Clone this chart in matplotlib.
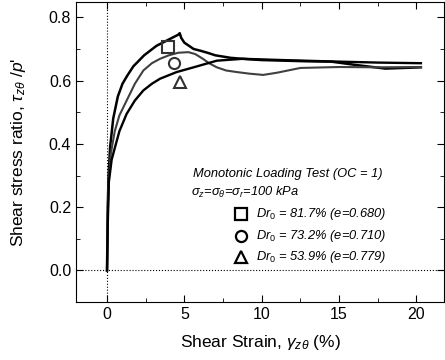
import numpy as np
import matplotlib.pyplot as plt
from matplotlib.ticker import MultipleLocator

plt.rcParams['font.family'] = ['Liberation Sans', 'DejaVu Sans']
plt.rcParams['mathtext.fontset'] = 'custom'
plt.rcParams['mathtext.rm'] = 'Liberation Sans'
plt.rcParams['mathtext.it'] = 'Liberation Sans:italic'

# Dr0 = 81.7 %
x1 = [0, 0.05, 0.1, 0.2, 0.4, 0.7, 1.0, 1.3, 1.7, 2.0, 2.4, 2.8, 3.2, 3.6, 4.0, 4.4, 4.6, 4.7,
      4.8, 5.0, 5.3, 5.6, 6.0, 6.5, 7.0, 8.0, 9.0, 10.0, 11.5, 13.0, 14.5, 16.0, 18.0, 20.3]
y1 = [0, 0.2, 0.3, 0.39, 0.48, 0.55, 0.59, 0.615, 0.645, 0.66, 0.68, 0.695, 0.71, 0.72, 0.73,
      0.74, 0.745, 0.75, 0.735, 0.72, 0.71, 0.70, 0.695, 0.688, 0.68, 0.672, 0.668, 0.665,
      0.663, 0.661, 0.66, 0.65, 0.638, 0.642]

# Dr0 = 73.2 %
x2 = [0, 0.05, 0.1, 0.25, 0.5, 0.8, 1.27, 1.8, 2.35, 2.9, 3.43, 4.0, 4.6, 5.26, 5.7, 6.2, 6.6,
      7.1, 7.7, 8.4, 9.2, 10.1, 11.0, 12.5, 15.0, 17.5, 20.3]
y2 = [0, 0.2, 0.28, 0.37, 0.44, 0.49, 0.537, 0.59, 0.632, 0.655, 0.669, 0.68, 0.688, 0.69,
      0.684, 0.669, 0.655, 0.642, 0.632, 0.627, 0.622, 0.618, 0.625, 0.64, 0.643, 0.642, 0.643]

# Dr0 = 53.9 %
x3 = [0, 0.05, 0.12, 0.3, 0.52, 0.8, 1.27, 1.8, 2.35, 2.9, 3.43, 4.5, 5.6, 7.1, 8.8, 10.0,
      12.0, 15.0, 17.5, 20.3]
y3 = [0, 0.15, 0.28, 0.35, 0.39, 0.44, 0.495, 0.537, 0.569, 0.59, 0.606, 0.627, 0.642, 0.663,
      0.669, 0.667, 0.664, 0.66, 0.657, 0.655]

# marker positions next to the peaks
mx = [3.97, 4.3, 4.72]
my = [0.705, 0.655, 0.595]
mk = ['s', 'o', '^']
labels = [r'$\mathit{Dr}_{\mathit{0}}$ = 81.7% (e=0.680)',
          r'$\mathit{Dr}_{\mathit{0}}$ = 73.2% (e=0.710)',
          r'$\mathit{Dr}_{\mathit{0}}$ = 53.9% (e=0.779)']

fig = plt.figure(figsize=(4.45, 3.6), dpi=100)
ax = fig.add_axes([0.171, 0.161, 0.827, 0.833])

ax.axvline(0, ls=':', color='k', lw=0.8)
ax.axhline(0, ls=':', color='k', lw=0.8)

ax.plot(x1, y1, color='k', lw=1.8)
ax.plot(x2, y2, color='#404040', lw=1.5)
ax.plot(x3, y3, color='k', lw=1.7)

for i in range(3):
    ax.plot(mx[i], my[i], marker=mk[i], ms=8, mfc='none', mec='#333333', mew=1.5)

# legend-like annotation
ax.text(0.318, 0.427, 'Monotonic Loading Test (OC = 1)', transform=ax.transAxes,
        fontsize=9.3, style='italic', va='center')
ax.text(0.3125, 0.367, r'$\sigma_z$=$\sigma_\theta$=$\sigma_r$=100 kPa', transform=ax.transAxes,
        fontsize=9.3, style='italic', va='center')
ly = [0.293, 0.22, 0.15]
for i in range(3):
    ax.plot(0.448, ly[i], marker=mk[i], ms=8, mfc='none', mec='k', mew=1.6,
            transform=ax.transAxes)
    ax.text(0.489, ly[i], labels[i], transform=ax.transAxes, fontsize=9.3,
            style='italic', va='center')

ax.set_xlim(-2, 21.8)
ax.set_ylim(-0.1, 0.848)
ax.xaxis.set_major_locator(MultipleLocator(5))
ax.xaxis.set_minor_locator(MultipleLocator(2.5))
ax.yaxis.set_major_locator(MultipleLocator(0.2))
ax.yaxis.set_minor_locator(MultipleLocator(0.1))
ax.tick_params(which='both', direction='in', top=True, right=True, labelsize=11.5)
ax.tick_params(which='major', length=5)
ax.tick_params(which='minor', length=3)

ax.set_xlabel(r'Shear Strain, $\gamma_{z\theta}$ (%)', fontsize=12.5, labelpad=8)
ax.set_ylabel(r"Shear stress ratio, $\tau_{z\theta}$ /$p$'", fontsize=12.5, labelpad=15)

fig.savefig('out.png', dpi=100)
